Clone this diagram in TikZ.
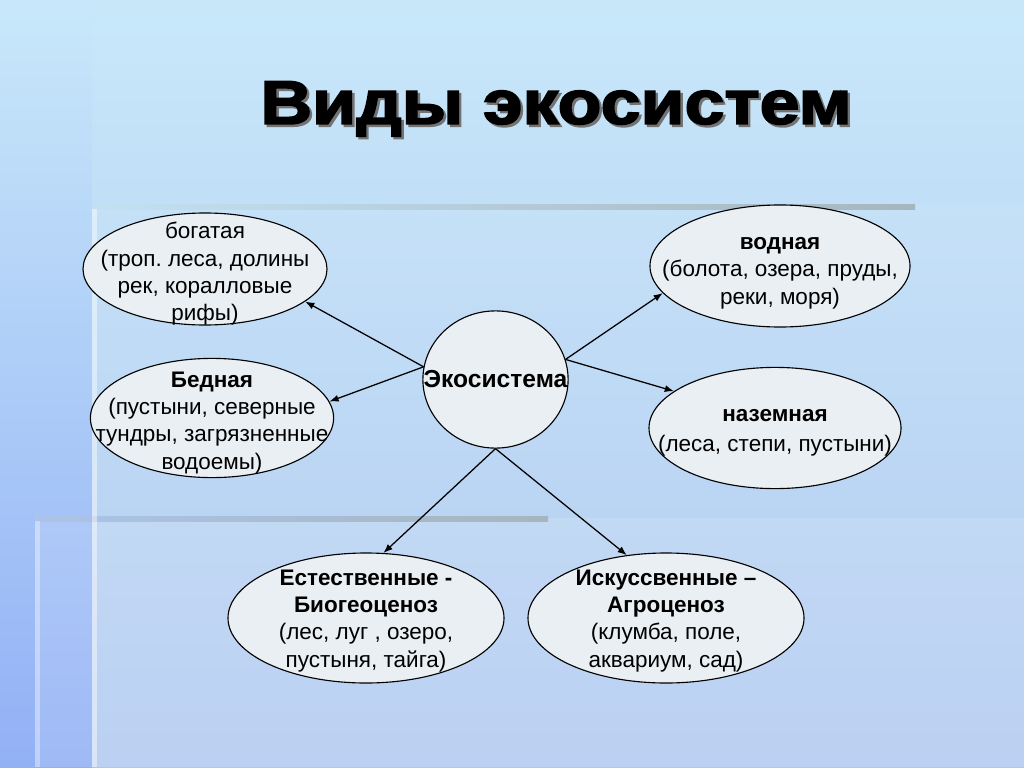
\documentclass[tikz,border=0pt]{standalone}
\usepackage{fontspec}
\setmainfont{Liberation Sans}
\newfontfamily\titulofont{Liberation Sans}[BoldFeatures={FakeBold=2.5}]
\usetikzlibrary{shapes.geometric,arrows.meta}
\frenchspacing
\definecolor{fondoarriba}{RGB}{200,232,250}
\definecolor{fondoabajo}{RGB}{172,198,240}
\definecolor{bandaizq}{RGB}{146,176,245}
\definecolor{barra}{RGB}{166,182,190}
\definecolor{relleno}{RGB}{233,239,243}
\newcommand{\titulotexto}{\titulofont\bfseries\fontsize{44}{50}\selectfont\scalebox{1.16}[1]{Виды экосистем}}
\tikzset{
  elipse/.style={ellipse,draw=black,line width=0.8pt,fill=relleno,inner sep=0pt},
  texto/.style={align=center,inner sep=0pt,yshift=-1.2mm,font=\fontsize{16}{19.5}\selectfont},
  flecha/.style={line width=0.9pt,-{Latex[length=6.5pt,width=5pt]}}
}
\begin{document}
\begin{tikzpicture}[x=0.25mm,y=-0.25mm]
\useasboundingbox (0,0) rectangle (1024,767);
\shade[top color=fondoarriba,bottom color=fondoabajo] (0,0) rectangle (1024,767); % fondo
\shade[top color=fondoarriba,bottom color=bandaizq] (0,0) rectangle (92,767); % banda izquierda
\fill[white,opacity=0.08] (92,205) rectangle (1024,767); % panel 1
\fill[white,opacity=0.12] (35,518) rectangle (1024,767); % panel 2
\shade[left color=barra!15!fondoarriba,right color=barra] (92,204) rectangle (915,209); % barra 1
\shade[left color=barra!15!fondoabajo,right color=barra] (35,516) rectangle (548,521); % barra 2
\fill[white,opacity=0.45] (92,209) rectangle (97,767); % borde panel 1
\fill[white,opacity=0.35] (35,521) rectangle (40,767); % borde panel 2

\node (titulo) at (556,110) {\makebox[0pt][l]{\hspace{0.6mm}\raisebox{-0.6mm}{\color{black!55}\titulotexto}}\titulotexto}; % titulo con sombra

\node[elipse,minimum width=3.63cm,minimum height=3.43cm] (eco) at (495.5,379.5) {}; % circulo
\node[texto,yshift=1.2mm,font=\fontsize{17.5}{20}\selectfont\bfseries] (eco-t) at (eco) {Экосистема};

\node[elipse,minimum width=6.1cm,minimum height=2.8cm] (rica) at (205,269) {}; % elipse 1
\node[texto] (rica-t) at (rica) {богатая\\(троп. леса, долины\\рек, коралловые\\рифы)};

\node[elipse,minimum width=6.08cm,minimum height=2.98cm] (pobre) at (212,418) {}; % elipse 2
\node[texto] (pobre-t) at (pobre) {\textbf{Бедная}\\(пустыни, северные\\тундры, загрязненные\\водоемы)};

\node[elipse,minimum width=6.5cm,minimum height=3.05cm] (acuatica) at (780,266) {}; % elipse 3
\node[texto,yshift=-0.6mm] (acuatica-t) at (acuatica) {\textbf{водная}\\(болота, озера, пруды,\\реки, моря)};

\node[elipse,minimum width=6.3cm,minimum height=3.03cm] (terrestre) at (775,428) {}; % elipse 4
\node[texto,font=\fontsize{16}{21}\selectfont] (terrestre-t) at (terrestre) {\textbf{наземная}\\(леса, степи, пустыни)};

\node[elipse,minimum width=6.9cm,minimum height=3.25cm] (natural) at (366,618) {}; % elipse 5
\node[texto,yshift=0.5mm] (natural-t) at (natural) {\textbf{Естественные -}\\\textbf{Биогеоценоз}\\(лес, луг , озеро,\\пустыня, тайга)};

\node[elipse,minimum width=6.9cm,minimum height=3.25cm] (artificial) at (666,618) {}; % elipse 6
\node[texto,yshift=0.5mm] (artificial-t) at (artificial) {\textbf{Искуссвенные –}\\\textbf{Агроценоз}\\(клумба, поле,\\аквариум, сад)};

\draw[flecha] (eco.170) -- (rica.-18); % flecha 1
\draw[flecha] (eco.170) -- (pobre.8); % flecha 2
\draw[flecha] (eco.16) -- (acuatica.193); % flecha 3
\draw[flecha] (eco.16) -- (terrestre.160); % flecha 4
\draw[flecha] (eco.south) -- (natural.75); % flecha 5
\draw[flecha] (eco.south) -- (artificial.122); % flecha 6
\end{tikzpicture}
\end{document}
